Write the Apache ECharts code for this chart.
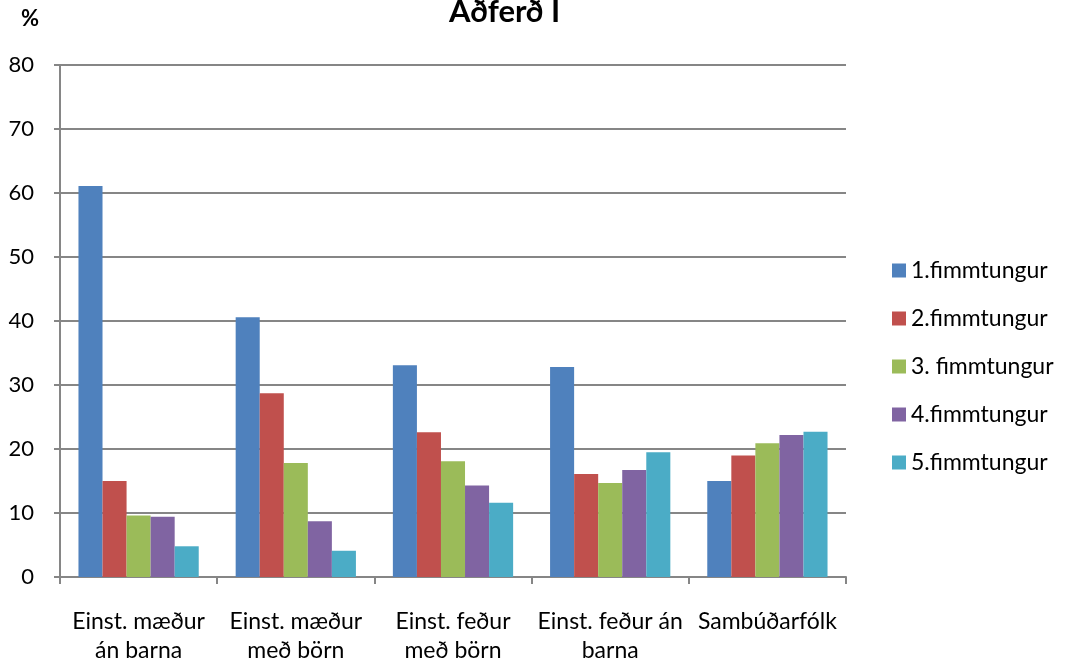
<!DOCTYPE html>
<html>
<head>
<meta charset="utf-8">
<script src="https://cdn.jsdelivr.net/npm/echarts@6/dist/echarts.min.js"></script>
<style>html,body{margin:0;padding:0;background:#fff}#c{width:1070px;height:668px}</style>
</head>
<body>
<div id="c"></div>
<script>
const categories = ["Einst. mæður\nán barna", "Einst. mæður\nmeð börn", "Einst. feður\nmeð börn", "Einst. feður án\nbarna", "Sambúðarfólk"];
const seriesNames = ["1.fimmtungur", "2.fimmtungur", "3. fimmtungur", "4.fimmtungur", "5.fimmtungur"];
const q1 = [61.1, 40.6, 33.1, 32.8, 15.0];
const q2 = [15.0, 28.7, 22.6, 16.1, 19.0];
const q3 = [9.6, 17.8, 18.1, 14.7, 20.9];
const q4 = [9.4, 8.7, 14.3, 16.7, 22.2];
const q5 = [4.8, 4.1, 11.6, 19.5, 22.7];
const seriesData = [q1, q2, q3, q4, q5];
const colors = ["#4F81BD", "#C0504D", "#9BBB59", "#8064A2", "#4BACC6"];
const yTicks = [0, 10, 20, 30, 40, 50, 60, 70, 80];

const FONT = "Lato";
const chart = echarts.init(document.getElementById('c'), null, {renderer: 'canvas'});
chart.setOption({
  animation: false,
  backgroundColor: '#ffffff',
  color: colors,
  textStyle: {fontFamily: FONT},
  title: [
    {text: 'Aðferð I', left: 444, top: -9, textStyle: {fontFamily: FONT, fontSize: 31, fontWeight: 'bold', color: '#000'}},
    {text: '%', left: 16, top: 3, textStyle: {fontFamily: FONT, fontSize: 22, fontWeight: 'bold', color: '#000'}}
  ],
  legend: {
    orient: 'vertical',
    left: 887,
    top: 254,
    itemWidth: 14,
    itemHeight: 14,
    itemGap: 25,
    icon: 'rect',
    textStyle: {fontFamily: FONT, fontSize: 23, color: '#000'},
    data: seriesNames
  },
  grid: {left: 60, right: 224, top: 65, bottom: 91, containLabel: false},
  xAxis: {
    type: 'category',
    data: categories,
    axisLine: {lineStyle: {color: '#868686', width: 2}},
    axisTick: {show: true, length: 7, lineStyle: {color: '#868686', width: 2}},
    axisLabel: {fontFamily: FONT, fontSize: 23, color: '#000', margin: 30, lineHeight: 29, interval: 0}
  },
  yAxis: {
    type: 'value',
    min: yTicks[0],
    max: yTicks[yTicks.length - 1],
    interval: 10,
    axisLine: {show: true, lineStyle: {color: '#868686', width: 2}},
    axisTick: {show: true, length: 6, lineStyle: {color: '#868686', width: 2}},
    axisLabel: {fontFamily: FONT, fontSize: 22, color: '#000', margin: 26},
    splitLine: {lineStyle: {color: '#868686', width: 2}}
  },
  series: seriesData.map((d, i) => ({
    name: seriesNames[i],
    type: 'bar',
    data: d,
    barGap: '0%',
    barCategoryGap: '23.5%',
    itemStyle: {color: colors[i]}
  }))
});
</script>
</body>
</html>
